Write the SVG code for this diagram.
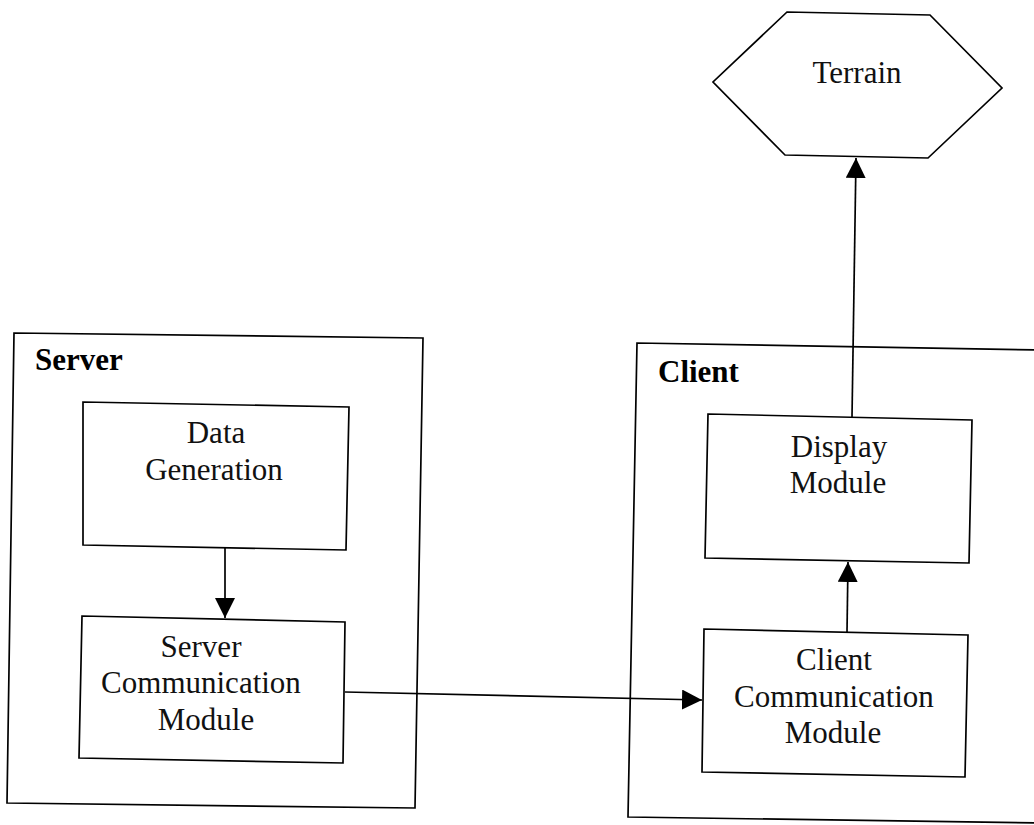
<svg xmlns="http://www.w3.org/2000/svg" width="1034" height="825" viewBox="0 0 1034 825">
  <style>
    .box { fill: none; stroke: #000; stroke-width: 1.7; stroke-linejoin: miter; }
    .t { font-family: "Liberation Serif", "Times New Roman", serif; font-size: 31px; fill: #111; text-anchor: middle; }
    .lbl { font-family: "Liberation Serif", "Times New Roman", serif; font-size: 31px; font-weight: bold; fill: #000; }
    .edge { fill: none; stroke: #000; stroke-width: 1.7; marker-end: url(#arrow); }
  </style>
  <defs>
    <marker id="arrow" markerUnits="userSpaceOnUse" markerWidth="20" markerHeight="20" refX="20" refY="10" orient="auto" viewBox="0 0 20 20">
      <path d="M0,0 L20,10 L0,20 Z" fill="#000"/>
    </marker>
  </defs>
  <rect width="1034" height="825" fill="#fff"/>

  <g id="server">
    <polygon class="box" points="14,333 423,338 415,808 7,803"/>
    <text class="lbl" x="35" y="370">Server</text>
  </g>

  <g id="client">
    <path class="box" d="M1040,350 L637,343 L628,817 L1040,823"/>
    <text class="lbl" x="658" y="382">Client</text>
  </g>

  <g id="terrain">
    <polygon class="box" points="787,12 930,15 1002,88 928,158 785,155 713,82"/>
    <text class="t" x="857" y="83" fill="#222">Terrain</text>
  </g>

  <g id="data-generation">
    <polygon class="box" points="83,402 349,407 346,550 83,545"/>
    <text class="t" x="216" y="443">Data</text>
    <text class="t" x="214" y="480">Generation</text>
  </g>

  <g id="server-communication">
    <polygon class="box" points="82,616 345,622 343,763 79,758"/>
    <text class="t" x="201" y="657">Server</text>
    <text class="t" x="201" y="693">Communication</text>
    <text class="t" x="206" y="730">Module</text>
  </g>

  <g id="display-module">
    <polygon class="box" points="708,414 972,420 969,563 705,558"/>
    <text class="t" x="839" y="457">Display</text>
    <text class="t" x="838" y="493">Module</text>
  </g>

  <g id="client-communication">
    <polygon class="box" points="704,629 968,635 965,777 702,772"/>
    <text class="t" x="834" y="670">Client</text>
    <text class="t" x="834" y="707">Communication</text>
    <text class="t" x="833" y="743">Module</text>
  </g>

  <g id="connectors">
    <line class="edge" x1="225" y1="547" x2="225" y2="618"/>
    <line class="edge" x1="345" y1="692" x2="702" y2="700"/>
    <line class="edge" x1="847" y1="632" x2="848" y2="562"/>
    <line class="edge" x1="852" y1="417" x2="856" y2="158"/>
  </g>
</svg>
